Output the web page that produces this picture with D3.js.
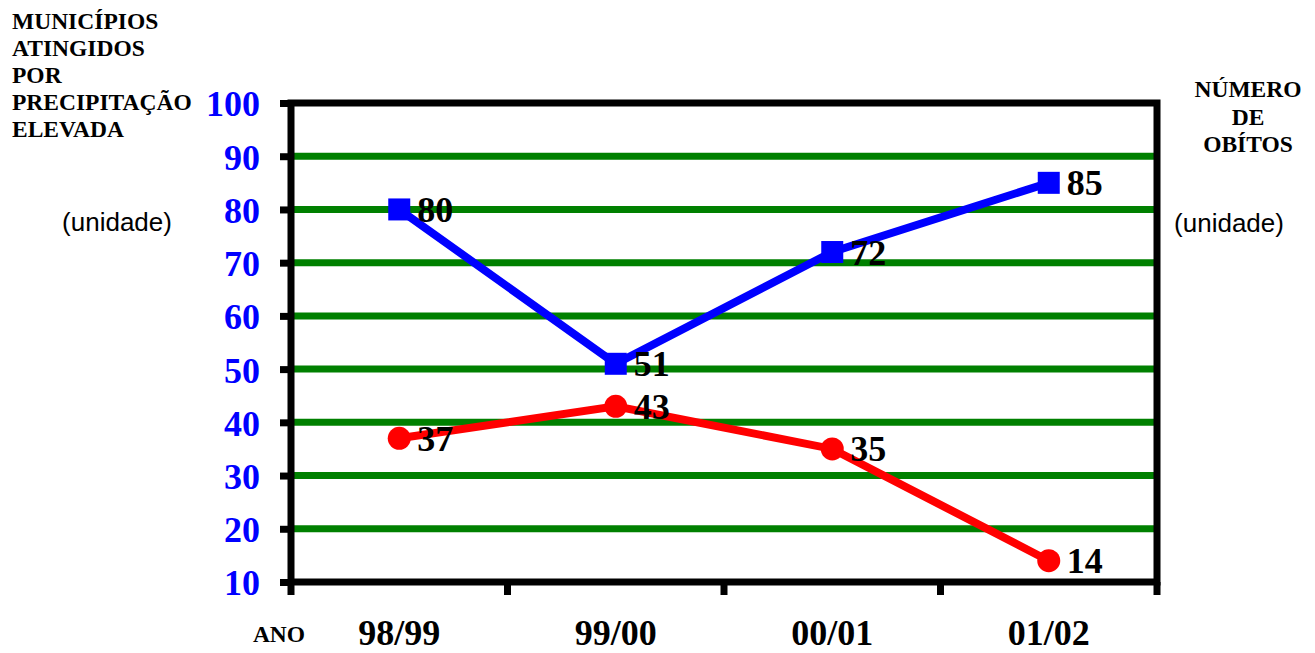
<!DOCTYPE html>
<html>
<head>
<meta charset="utf-8">
<script src="https://cdn.jsdelivr.net/npm/d3@7"></script>
<style>
  html, body { margin: 0; padding: 0; background: #fff; }
  svg { display: block; }
</style>
</head>
<body>
<svg id="chart" width="1315" height="653"></svg>
<script>
// Seasons (x categories)
const anos = ["98/99", "99/00", "00/01", "01/02"];
// Municipalities affected by heavy rainfall
const municipios = [80, 51, 72, 85];
// Number of deaths
const obitos = [37, 43, 35, 14];
// Left axis ticks
const yTicks = [10, 20, 30, 40, 50, 60, 70, 80, 90, 100];

const svg = d3.select("#chart");
const serif = "'Liberation Serif', 'Times New Roman', serif";
const sans = "'Liberation Sans', Arial, sans-serif";

const x = d3.scaleBand().domain(anos).range([291, 1157]).padding(0);
const y = d3.scaleLinear().domain([10, 100]).range([582, 103]);

// Horizontal grid
svg.append("g")
  .selectAll("line")
  .data(yTicks.filter(v => v > 10 && v < 100))
  .join("line")
  .attr("x1", 291).attr("x2", 1157)
  .attr("y1", d => y(d)).attr("y2", d => y(d))
  .attr("stroke", "#008000").attr("stroke-width", 7);

// Left axis with blue labels
const yAxis = svg.append("g")
  .attr("transform", "translate(291,0)")
  .call(d3.axisLeft(y).tickValues(yTicks).tickSize(11).tickSizeOuter(0));
yAxis.select(".domain").remove();
yAxis.selectAll(".tick line").attr("stroke", "#000").attr("stroke-width", 7);
yAxis.selectAll(".tick text")
  .attr("fill", "#0000ff")
  .attr("font-family", serif)
  .attr("font-weight", "bold")
  .attr("font-size", 36)
  .attr("dy", "0.36em")
  .attr("x", -31);

// Bottom axis: ticks at category boundaries
const bounds = anos.map(a => x(a)).concat([x.range()[1]]);
svg.append("g")
  .selectAll("line")
  .data(bounds)
  .join("line")
  .attr("x1", d => d).attr("x2", d => d)
  .attr("y1", 582).attr("y2", 595)
  .attr("stroke", "#000").attr("stroke-width", 7);

svg.append("g")
  .selectAll("text")
  .data(anos)
  .join("text")
  .attr("x", d => x(d) + x.bandwidth() / 2)
  .attr("y", 645)
  .attr("text-anchor", "middle")
  .attr("font-family", serif)
  .attr("font-weight", "bold")
  .attr("font-size", 36)
  .attr("fill", "#000")
  .text(d => d);

// Plot frame
svg.append("rect")
  .attr("x", 291).attr("y", 103)
  .attr("width", 1157 - 291).attr("height", 582 - 103)
  .attr("fill", "none").attr("stroke", "#000").attr("stroke-width", 7);

const cx = d => x(d) + x.bandwidth() / 2;

// Series lines
const line = d3.line().x(d => cx(d[0])).y(d => y(d[1]));
const blue = anos.map((a, i) => [a, municipios[i]]);
const red = anos.map((a, i) => [a, obitos[i]]);

svg.append("path").datum(blue)
  .attr("d", line).attr("fill", "none")
  .attr("stroke", "#0000ff").attr("stroke-width", 8);
svg.append("path").datum(red)
  .attr("d", line).attr("fill", "none")
  .attr("stroke", "#ff0000").attr("stroke-width", 8);

// Markers
svg.append("g").selectAll("rect").data(blue).join("rect")
  .attr("x", d => cx(d[0]) - 11).attr("y", d => y(d[1]) - 11)
  .attr("width", 22).attr("height", 22)
  .attr("fill", "#0000ff");

svg.append("g").selectAll("circle").data(red).join("circle")
  .attr("cx", d => cx(d[0])).attr("cy", d => y(d[1])).attr("r", 11.5)
  .attr("fill", "#ff0000");

// Value labels
svg.append("g").selectAll("text").data(blue.concat(red)).join("text")
  .attr("x", d => cx(d[0]) + 18)
  .attr("y", d => y(d[1]) + 12.5)
  .attr("font-family", serif)
  .attr("font-weight", "bold")
  .attr("font-size", 36)
  .attr("fill", "#000")
  .text(d => d[1]);

// Left axis title
const leftTitle = ["MUNICÍPIOS", "ATINGIDOS", "POR", "PRECIPITAÇÃO", "ELEVADA"];
svg.append("g").selectAll("text").data(leftTitle).join("text")
  .attr("x", 12).attr("y", (d, i) => 29 + i * 27)
  .attr("font-family", serif).attr("font-weight", "bold")
  .attr("font-size", 23.5).attr("fill", "#000")
  .text(d => d);

svg.append("text")
  .attr("x", 117).attr("y", 231).attr("text-anchor", "middle")
  .attr("font-family", sans).attr("font-size", 26).attr("fill", "#000")
  .text("(unidade)");

// Right axis title
const rightTitle = ["NÚMERO", "DE", "OBÍTOS"];
svg.append("g").selectAll("text").data(rightTitle).join("text")
  .attr("x", 1248).attr("y", (d, i) => 97 + i * 27.5)
  .attr("text-anchor", "middle")
  .attr("font-family", serif).attr("font-weight", "bold")
  .attr("font-size", 23.5).attr("fill", "#000")
  .text(d => d);

svg.append("text")
  .attr("x", 1229).attr("y", 232).attr("text-anchor", "middle")
  .attr("font-family", sans).attr("font-size", 26).attr("fill", "#000")
  .text("(unidade)");

// Category axis title
svg.append("text")
  .attr("x", 279).attr("y", 642).attr("text-anchor", "middle")
  .attr("font-family", serif).attr("font-weight", "bold")
  .attr("font-size", 23.5).attr("fill", "#000")
  .text("ANO");
</script>
</body>
</html>
